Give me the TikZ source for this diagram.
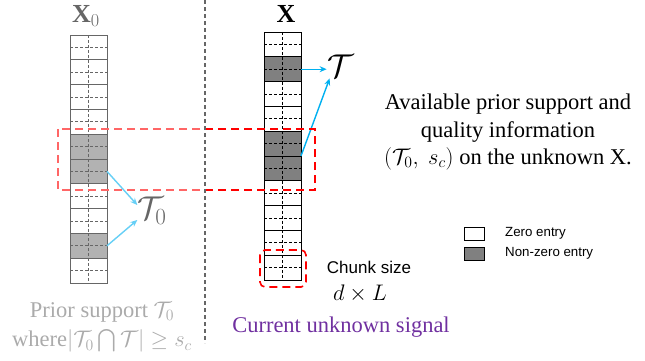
\RequirePackage{fix-cm}
\documentclass[tikz,border=0pt]{standalone}
\usepackage{fontspec}
\setmainfont{Liberation Serif}
\setsansfont{Liberation Sans}
\usepackage{amsmath}
\usepackage{amssymb}
\usepackage{xcolor}
\usetikzlibrary{arrows.meta}
\definecolor{signalcyan}{HTML}{00B0F0}
\definecolor{signalpurple}{HTML}{7030A0}
\definecolor{signalgray}{HTML}{808080}
\definecolor{signalred}{HTML}{FF0000}
\newcommand{\bigtextfont}{\fontsize{22.5}{27.5}\selectfont}
\newcommand{\labelfont}{\fontsize{26}{30}\selectfont}
\newcommand{\supportfont}{\fontsize{33}{36}\selectfont}
\newcommand{\leftpanel}{(0,0) rectangle (204,360)}

\begin{document}
\begin{tikzpicture}[x=1pt, y=-1pt,
  cellbox/.style={draw, line width=0.9pt, minimum width=37pt, minimum height=24.8pt,
    inner sep=0pt, outer sep=0pt,
    path picture={\draw[line width=0.7pt, dash pattern=on 3pt off 2pt]
      (path picture bounding box.west) -- (path picture bounding box.east)
      (path picture bounding box.north) -- (path picture bounding box.south);}},
  zerocell/.style={cellbox, fill=white},
  nonzerocell/.style={cellbox, fill=signalgray},
  supparrow/.style={signalcyan, line width=1.4pt, -{Stealth[length=7pt, width=6pt]}},
  reddash/.style={signalred, line width=1.6pt, dash pattern=on 8pt off 5pt},
  bigtext/.style={font=\bigtextfont, inner sep=0pt},
  sanstext/.style={font=\sffamily\fontsize{17}{20}\selectfont, inner sep=0pt},
  legendtext/.style={font=\sffamily\fontsize{13.3}{15}\selectfont, inner sep=0pt, anchor=west},
  legendbox/.style={draw, line width=0.8pt, minimum width=20pt, minimum height=13pt, inner sep=0pt}]

  \useasboundingbox (0,0) rectangle (645,360);

  %% Left: prior signal X_0
  \foreach \i in {0,1,2,3,6,7,9}
    \node[zerocell] (xo\i) at (88.5, {47.4+24.8*\i}) {};
  \foreach \i in {4,5,8}
    \node[nonzerocell] (xo\i) at (88.5, {47.4+24.8*\i}) {};
  \node[font=\labelfont, inner sep=0pt] (xolabel) at (86,16) {$\mathbf{X}_0$};
  \node[font=\supportfont, inner sep=0pt] (To) at (152,211) {$\mathcal{T}_0$};
  \draw[supparrow] (xo5.east) -- ([yshift=6pt]To.west);
  \draw[supparrow] (xo8.east) -- ([yshift=-9pt]To.west);
  \node[bigtext, text=black!55, align=center] (prior) at (102,327)
    {Prior support $\mathcal{T}_0$\\[2pt]where$|\mathcal{T}_0\bigcap\mathcal{T}|\geq s_c$};

  %% Right: current signal X
  \foreach \i in {0,2,3,6,7,8,9}
    \node[zerocell] (x\i) at (282.5, {44.4+24.8*\i}) {};
  \foreach \i in {1,4,5}
    \node[nonzerocell] (x\i) at (282.5, {44.4+24.8*\i}) {};
  \node[font=\labelfont, inner sep=0pt] (xlabel) at (286,14) {$\mathbf{X}$};
  \node[font=\supportfont, inner sep=1pt] (T) at (341,66) {$\mathcal{T}$};
  \draw[supparrow] (x1.east) -- (x1.east -| T.west);
  \draw[supparrow] (x5.north east) -- ([xshift=3pt]T.south west);

  %% Overlapping chunks and chunk size
  \draw[reddash] (58,129) rectangle (315,190);
  \draw[reddash, rounded corners=5pt] (260,250) rectangle (306,287);

  %% Fade the prior side
  \fill[white, opacity=0.4] \leftpanel;
  \draw[black!60, line width=1.2pt, dash pattern=on 4pt off 3pt] (205,0) -- (205,343);

  \node[sanstext] (chunk) at (369,267) {Chunk size};
  \node[bigtext] (dl) at (360,294) {$d\times L$};
  \node[bigtext, text=signalpurple] (current) at (341,327) {Current unknown signal};
  \node[bigtext, align=center] (info) at (508,132)
    {Available prior support and\\quality information\\$(\mathcal{T}_0,\ s_c)$ on the unknown X.};

  %% Legend
  \node[legendbox, fill=white] (zerobox) at (474,233.5) {};
  \node[legendbox, fill=signalgray] (nonzerobox) at (474,253.5) {};
  \node[legendtext] (zerotext) at (505,233.5) {Zero entry};
  \node[legendtext] (nonzerotext) at (505,253.5) {Non-zero entry};

\end{tikzpicture}
\end{document}
